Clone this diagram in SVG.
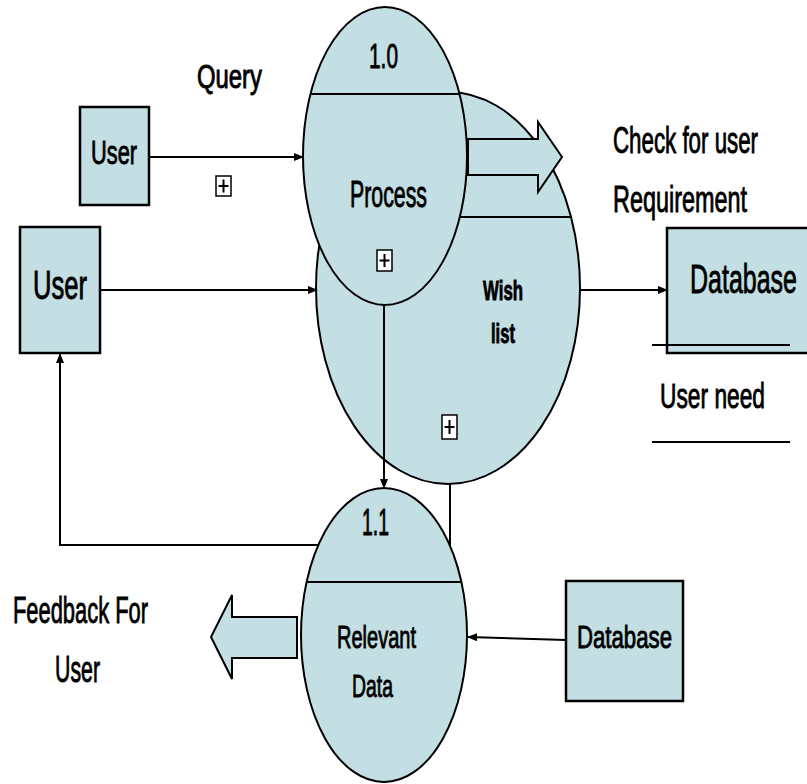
<svg xmlns="http://www.w3.org/2000/svg" width="807" height="784" viewBox="0 0 807 784">
<style>
.shape{fill:#c3dfe3;stroke:#000;stroke-width:2}
.box{fill:#c3dfe3;stroke:#000;stroke-width:2.5}
.ln{fill:none;stroke:#000;stroke-width:2}
.conn{fill:none;stroke:#000;stroke-width:2}
.arrowline{fill:none;stroke:#000;stroke-width:2;marker-end:url(#ah)}
.t{font-family:"Liberation Sans",Arial,sans-serif;fill:#000;stroke:#000;stroke-width:0.9}
.b{font-weight:bold}
.plus{fill:#fff;stroke:#000;stroke-width:1.5}
</style>
<defs>
<marker id="ah" markerWidth="10" markerHeight="8" refX="9" refY="4" orient="auto" markerUnits="userSpaceOnUse">
<path d="M0,0 L10,4 L0,8 z" fill="#000"/>
</marker>
</defs>
<rect width="807" height="784" fill="#fff"/>

<g id="wishlist">
<ellipse class="shape" cx="448" cy="288" rx="132" ry="196"/>
<line class="ln" x1="455" y1="217" x2="571" y2="217"/>
<text class="t b" transform="translate(483,300) scale(0.62,1)" font-size="27" textLength="64.5" lengthAdjust="spacingAndGlyphs">Wish</text>
<text class="t b" transform="translate(491,343) scale(0.62,1)" font-size="27" textLength="38.7" lengthAdjust="spacingAndGlyphs">list</text>
<rect class="plus" x="442" y="415" width="15" height="24"/>
<path class="ln" d="M444.5,427 H454.5 M449.5,420 V434" stroke-width="1.5"/>
</g>

<g id="process">
<ellipse class="shape" cx="385" cy="156" rx="82" ry="149"/>
<line class="ln" x1="310" y1="94" x2="460" y2="94"/>
<text class="t" transform="translate(369,68) scale(0.62,1)" font-size="35" textLength="46.8" lengthAdjust="spacingAndGlyphs">1.0</text>
<text class="t" transform="translate(350,207) scale(0.62,1)" font-size="37" textLength="124.2" lengthAdjust="spacingAndGlyphs">Process</text>
<rect class="plus" x="377" y="250" width="15" height="21"/>
<path class="ln" d="M379.5,260.5 H389.5 M384.5,254 V267" stroke-width="1.5"/>
</g>

<g id="relevant">
<ellipse class="shape" cx="384" cy="635" rx="83" ry="147"/>
<line class="ln" x1="307" y1="582" x2="461" y2="582"/>
<text class="t" transform="translate(362,535) scale(0.62,1)" font-size="36" textLength="43.5" lengthAdjust="spacingAndGlyphs">1.1</text>
<text class="t" transform="translate(337,648) scale(0.62,1)" font-size="32" textLength="127.4" lengthAdjust="spacingAndGlyphs">Relevant</text>
<text class="t" transform="translate(352,697) scale(0.62,1)" font-size="32" textLength="66.1" lengthAdjust="spacingAndGlyphs">Data</text>
</g>

<g id="user1">
<rect class="box" x="80" y="107" width="69" height="98"/>
<text class="t" transform="translate(91,164) scale(0.62,1)" font-size="33" textLength="74.2" lengthAdjust="spacingAndGlyphs">User</text>
</g>

<g id="user2">
<rect class="box" x="20" y="227" width="80" height="126"/>
<text class="t" transform="translate(33,299) scale(0.62,1)" font-size="40" textLength="87.1" lengthAdjust="spacingAndGlyphs">User</text>
</g>

<g id="database1">
<rect class="box" x="667" y="228" width="150" height="125"/>
<text class="t" transform="translate(690,293) scale(0.62,1)" font-size="41" textLength="172.6" lengthAdjust="spacingAndGlyphs">Database</text>
</g>

<g id="database2">
<rect class="box" x="566" y="581" width="117" height="120"/>
<text class="t" transform="translate(577,648) scale(0.62,1)" font-size="32" textLength="153.2" lengthAdjust="spacingAndGlyphs">Database</text>
</g>

<g id="connectors">
<line class="arrowline" x1="149" y1="157" x2="303" y2="157"/>
<line class="arrowline" x1="100" y1="290" x2="317" y2="290"/>
<line class="arrowline" x1="580" y1="290" x2="667" y2="290"/>
<line class="arrowline" x1="384" y1="305" x2="384" y2="488"/>
<line class="conn" x1="450" y1="484" x2="450" y2="546"/>
<polyline class="arrowline" points="318,545 60,545 60,354"/>
<line class="arrowline" x1="566" y1="640" x2="468" y2="637"/>
<polygon class="shape" points="468,139 538,139 538,122 562,157 538,192 538,175 468,175"/>
<polygon class="shape" points="297,617 232,617 232,595 211,637 232,679 232,658 297,658"/>
<rect class="plus" x="216" y="176" width="15" height="20"/>
<path class="ln" d="M218.5,186 H228.5 M223.5,179.5 V192.5" stroke-width="1.5"/>
</g>

<g id="labels">
<text class="t" transform="translate(197,88) scale(0.62,1)" font-size="33" textLength="104.8" lengthAdjust="spacingAndGlyphs">Query</text>
<text class="t" transform="translate(613,153) scale(0.62,1)" font-size="36" textLength="233.9" lengthAdjust="spacingAndGlyphs">Check for user</text>
<text class="t" transform="translate(613,212) scale(0.62,1)" font-size="36" textLength="216.1" lengthAdjust="spacingAndGlyphs">Requirement</text>
<line class="ln" x1="652" y1="345" x2="790" y2="345"/>
<text class="t" transform="translate(660,408) scale(0.62,1)" font-size="35" textLength="169.4" lengthAdjust="spacingAndGlyphs">User need</text>
<line class="ln" x1="652" y1="442" x2="790" y2="442"/>
<text class="t" transform="translate(13,623) scale(0.62,1)" font-size="37" textLength="217.7" lengthAdjust="spacingAndGlyphs">Feedback For</text>
<text class="t" transform="translate(55,682) scale(0.62,1)" font-size="37" textLength="72.6" lengthAdjust="spacingAndGlyphs">User</text>
</g>
</svg>
